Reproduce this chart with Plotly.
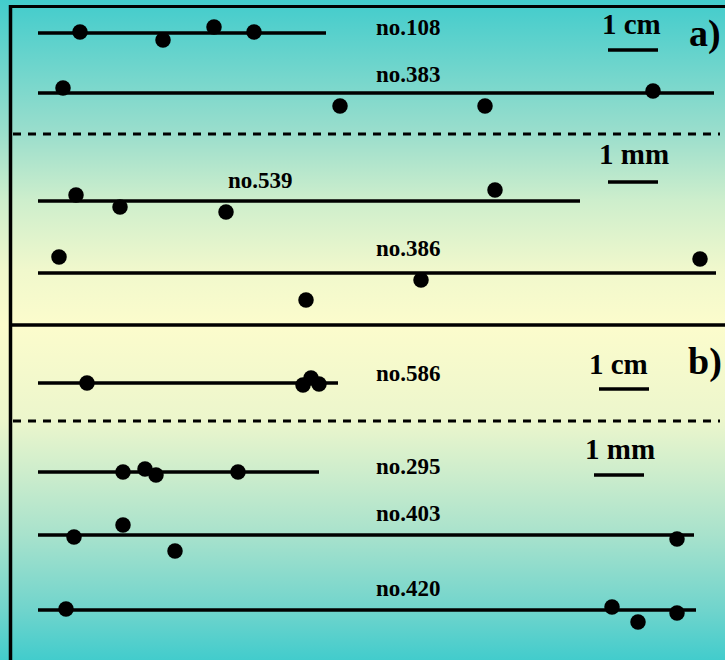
import plotly.graph_objects as go

# Canvas units: x runs left->right, y runs top->bottom (0..660 x 0..725)
W, H = 725, 660

# ---- specimens: label, line height, line extent, bead positions ----
labels = ["no.108", "no.383", "no.539", "no.386",
          "no.586", "no.295", "no.403", "no.420"]
line_y = [33, 93, 201, 273, 383, 472, 535, 610]
line_x0 = [38, 38, 38, 38, 38, 38, 38, 38]
line_x1 = [326, 714, 580, 716, 338, 319, 694, 696]
label_x = [408, 408, 260, 408, 408, 408, 408, 408]
label_y = [27, 74, 180, 248, 373, 466, 513, 588]

dots_x = [
    [80, 163, 214, 254],
    [63, 340, 485, 653],
    [76, 120, 226, 495],
    [59, 306, 421, 700],
    [87, 303, 311, 319],
    [123, 145, 156, 238],
    [74, 123, 175, 677],
    [66, 612, 638, 677],
]
dots_y = [
    [32, 40, 27, 32],
    [88, 106, 106, 91],
    [195, 207, 212, 190],
    [257, 300, 280, 259],
    [383, 385, 378, 384],
    [472, 469, 475, 472],
    [537, 525, 551, 539],
    [609, 607, 622, 613],
]

# ---- scale bars: text, centre, bar extent ----
scale_text = ["1 cm", "1 mm", "1 cm", "1 mm"]
scale_text_x = [631, 634, 618, 620]
scale_text_y = [24, 154, 364, 449]
scale_bar_x0 = [608, 608, 599, 594]
scale_bar_x1 = [658, 658, 649, 644]
scale_bar_y = [50, 182, 389, 475]

panel_tags = ["a)", "b)"]
panel_tag_x = [705, 705]
panel_tag_y = [33, 361]

dash_y = [134, 421]

TEAL = "rgb(66,204,204)"
CREAM = "rgb(252,252,204)"
FONT = "Liberation Serif, Times New Roman, serif"

# background colour stops (position along the height, colour)
bg_pos = [0, 134, 200, 270, 325, 420, 535, 610, 660]
bg_col = [TEAL, "rgb(155,222,204)", "rgb(205,238,204)", "rgb(240,248,204)",
          CREAM, "rgb(236,246,204)", "rgb(168,226,204)", "rgb(112,212,204)", TEAL]

fig = go.Figure()

# background: teal -> cream -> teal vertical gradient
fig.add_trace(go.Scatter(
    x=[0, W, W, 0, 0], y=[0, 0, H, H, 0],
    mode="lines", line=dict(width=0), fill="toself",
    fillgradient=dict(type="vertical", start=0, stop=H,
                      colorscale=[[p / H, c] for p, c in zip(bg_pos, bg_col)]),
    hoverinfo="skip", showlegend=False))

# specimen lines and beads
for i in range(len(labels)):
    fig.add_trace(go.Scatter(
        x=[line_x0[i], line_x1[i]], y=[line_y[i], line_y[i]],
        mode="lines", line=dict(color="black", width=3.3),
        hoverinfo="skip", showlegend=False))
    fig.add_trace(go.Scatter(
        x=dots_x[i], y=dots_y[i], mode="markers",
        marker=dict(color="black", size=15.5, line=dict(width=0)),
        hoverinfo="skip", showlegend=False))
    fig.add_annotation(x=label_x[i], y=label_y[i], text="<b>%s</b>" % labels[i],
                       showarrow=False, xanchor="center", yanchor="middle",
                       font=dict(family=FONT, size=23, color="black"))

# scale bars
for i in range(len(scale_text)):
    fig.add_trace(go.Scatter(
        x=[scale_bar_x0[i], scale_bar_x1[i]], y=[scale_bar_y[i], scale_bar_y[i]],
        mode="lines", line=dict(color="black", width=3.5),
        hoverinfo="skip", showlegend=False))
    fig.add_annotation(x=scale_text_x[i], y=scale_text_y[i],
                       text="<b>%s</b>" % scale_text[i], showarrow=False,
                       xanchor="center", yanchor="middle",
                       font=dict(family=FONT, size=29, color="black"))

for i in range(len(panel_tags)):
    fig.add_annotation(x=panel_tag_x[i], y=panel_tag_y[i],
                       text="<b>%s</b>" % panel_tags[i], showarrow=False,
                       xanchor="center", yanchor="middle",
                       font=dict(family=FONT, size=38, color="black"))

# frame: top edge, left edge, divider between panels, dashed separators
shapes = [
    dict(type="line", x0=9, x1=W, y0=6.5, y1=6.5, line=dict(color="black", width=3)),
    dict(type="line", x0=10.5, x1=10.5, y0=5, y1=H, line=dict(color="black", width=3.5)),
    dict(type="line", x0=9, x1=W, y0=325, y1=325, line=dict(color="black", width=3.5)),
]
for yd in dash_y:
    shapes.append(dict(type="line", x0=13, x1=720, y0=yd, y1=yd,
                       line=dict(color="black", width=3, dash="8px,7px")))

fig.update_layout(
    width=W, height=H, margin=dict(l=0, r=0, t=0, b=0),
    paper_bgcolor=CREAM, plot_bgcolor=CREAM,
    xaxis=dict(range=[0, W], visible=False, fixedrange=True),
    yaxis=dict(range=[H, 0], visible=False, fixedrange=True),
    shapes=shapes, showlegend=False,
)

fig.write_html("out.html")
